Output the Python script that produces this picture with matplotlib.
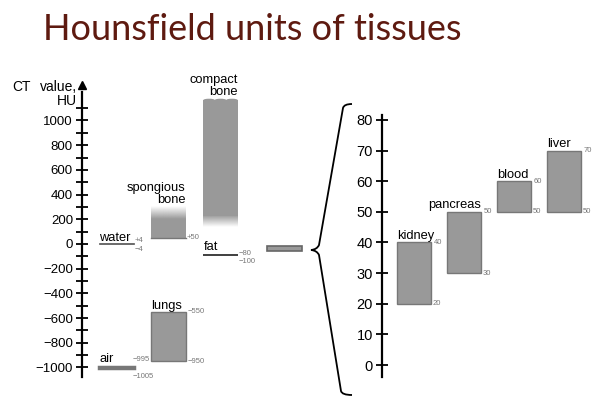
import numpy as np
import matplotlib
matplotlib.use('Agg')
import matplotlib.pyplot as plt
from matplotlib.patches import Ellipse
from matplotlib.path import Path
from matplotlib.patches import PathPatch

plt.rcParams['font.family'] = ['Liberation Sans', 'DejaVu Sans']

# --- data (Hounsfield units) ---
air_hu = (-1005, -995)
water_hu = (-4, 4)
lungs_hu = (-950, -550)
fat_hu = (-100, -80)
spongious_hu = (50, 200)        # solid part
spongious_fade_top = 300        # fades out up to here
compact_hu = (230, 1165)        # solid part
compact_fade_bottom = 140       # fades in from here
zoom_window_hu = (-57, -17)     # little bar pointing to the zoomed panel

organs = ['kidney', 'pancreas', 'blood', 'liver']
organ_low = [20, 30, 50, 50]
organ_high = [40, 50, 60, 70]

left_ticks = list(range(-1000, 1001, 200))
left_minor = list(range(-1000, 1101, 100))
right_ticks = list(range(0, 81, 10))

BAR = '#999999'
EDGE = '#777777'
NUM = '#777777'
W, H = 600, 397


def fmt(v):
    return ('+%d' % v if v > 0 else '%d' % v).replace('-', '\u2212')


fig = plt.figure(figsize=(6, 3.97), dpi=100)

# ---------------- left panel ----------------
ax = fig.add_axes([82 / W, (H - 377) / H, 228 / W, 292 / H])
ax.set_xlim(-0.663, 3.72)
ax.set_ylim(-1077, 1287)
bw = 0.66


def grad(ax, x, lo, hi, up):
    a = np.linspace(1, 0, 64) if up else np.linspace(0, 1, 64)
    img = np.zeros((64, 1, 4))
    img[..., :3] = 0.6
    img[:, 0, 3] = a
    ax.imshow(img, extent=(x - bw / 2, x + bw / 2, lo, hi), origin='lower',
              aspect='auto', interpolation='bilinear', zorder=2)


# column 0: water / air
ax.bar(0, water_hu[1] - water_hu[0], bottom=water_hu[0], width=bw,
       color='#555555', edgecolor='#555555', lw=0.5, zorder=3)
ax.bar(0, air_hu[1] - air_hu[0], bottom=air_hu[0], width=bw,
       color=BAR, edgecolor=EDGE, lw=2.5, zorder=3)
# column 1: spongious bone / lungs
ax.bar(1, spongious_hu[1] - spongious_hu[0], bottom=spongious_hu[0], width=bw,
       color=BAR, lw=0, zorder=3)
ax.plot([1 - bw / 2, 1 + bw / 2], [spongious_hu[0]] * 2, color=EDGE, lw=1, zorder=4)
grad(ax, 1, spongious_hu[1], spongious_fade_top, True)
ax.bar(1, lungs_hu[1] - lungs_hu[0], bottom=lungs_hu[0], width=bw,
       color=BAR, edgecolor=EDGE, lw=1, zorder=3)
# column 2: compact bone / fat
ax.bar(2, compact_hu[1] - compact_hu[0], bottom=compact_hu[0], width=bw,
       color=BAR, lw=0, zorder=3)
grad(ax, 2, compact_fade_bottom, compact_hu[0], False)
for k in range(3):
    cx = 2 - bw / 2 + bw / 6 + k * bw / 3
    ax.add_patch(Ellipse((cx, compact_hu[1]), bw / 3, 22, color=BAR, lw=0, zorder=3))
ax.bar(2, fat_hu[1] - fat_hu[0], bottom=fat_hu[0], width=bw,
       color='#444444', lw=0, zorder=3)
# zoom window bar
ax.bar(3.23, zoom_window_hu[1] - zoom_window_hu[0], bottom=zoom_window_hu[0],
       width=bw, color=BAR, edgecolor='#666666', lw=1.2, zorder=3)

ax.set_xlim(-0.663, 3.72)
ax.set_ylim(-1077, 1287)

lab = dict(fontsize=9.3, color='black', textcoords='offset points')
ax.annotate('water', (-bw / 2, water_hu[1]), xytext=(0, 2), va='baseline', ha='left', **lab)
ax.annotate('air', (-bw / 2, air_hu[1]), xytext=(0, 3.5), va='baseline', ha='left', **lab)
ax.annotate('lungs', (1 - bw / 2, lungs_hu[1]), xytext=(0, 2), va='baseline', ha='left', **lab)
ax.annotate('spongious\nbone', (1 + bw / 2, spongious_fade_top), xytext=(0, 2.5),
            va='baseline', ha='right', multialignment='right', linespacing=1.0, **lab)
ax.annotate('compact\nbone', (2 + bw / 2, compact_hu[1]), xytext=(0, 4),
            va='baseline', ha='right', multialignment='right', linespacing=1.0, **lab)
ax.annotate('fat', (2 - bw / 2, fat_hu[1]), xytext=(0, 2.5), va='baseline', ha='left', **lab)

num = dict(fontsize=5.5, color=NUM, textcoords='offset points')
ax.annotate(fmt(water_hu[1]), (bw / 2, water_hu[1]), xytext=(1, 2), va='center', **num)
ax.annotate(fmt(water_hu[0]), (bw / 2, water_hu[0]), xytext=(1, -3.5), va='center', **num)
ax.annotate(fmt(air_hu[1]), (bw / 2, air_hu[1]), xytext=(-1, 5), va='center', **num)
ax.annotate(fmt(air_hu[0]), (bw / 2, air_hu[0]), xytext=(-1, -6), va='center', **num)
ax.annotate(fmt(spongious_hu[0]), (1 + bw / 2, spongious_hu[0]), xytext=(1, 0), va='center', **num)
ax.annotate(fmt(lungs_hu[1]), (1 + bw / 2, lungs_hu[1]), xytext=(1.5, 0), va='center', **num)
ax.annotate(fmt(lungs_hu[0]), (1 + bw / 2, lungs_hu[0]), xytext=(1.5, 0), va='center', **num)
ax.annotate(fmt(fat_hu[1]), (2 + bw / 2, fat_hu[1]), xytext=(1, 0.5), va='center', **num)
ax.annotate(fmt(fat_hu[0]), (2 + bw / 2, fat_hu[0]), xytext=(1, -3.5), va='center', **num)

for s in ['top', 'right', 'bottom']:
    ax.spines[s].set_visible(False)
ax.spines['left'].set_linewidth(1.6)
ax.spines['left'].set_bounds(-1077, 1230)
ax.plot([0], [1], marker='^', ms=6, color='black', transform=ax.transAxes,
        clip_on=False, zorder=5)
ax.set_xticks([])
ax.set_yticks(left_ticks)
ax.set_yticks(left_minor, minor=True)
ax.tick_params(axis='y', which='both', direction='inout', length=9, width=1.3,
               labelsize=9.5, pad=2)
ax.patch.set_visible(False)

fig.text(12 / W, 1 - 87 / H, 'CT', fontsize=10, va='center', ha='left')
fig.text(77 / W, 1 - 94 / H, 'value,\nHU', fontsize=10, va='center', ha='right',
         multialignment='right', linespacing=1.05)

# ---------------- right panel ----------------
ax2 = fig.add_axes([382 / W, (H - 376.7) / H, 218 / W, 261.7 / H])
x = np.arange(len(organs))
bw2 = 0.68
ax2.bar(x, np.array(organ_high) - np.array(organ_low), bottom=organ_low, width=bw2,
        color=BAR, edgecolor=EDGE, lw=1, zorder=3)
ax2.set_xlim(-0.633, 3.72)
ax2.set_ylim(-3.8, 81.6)
for i, name in enumerate(organs):
    if name == 'pancreas':
        ax2.annotate(name, (i + bw2 / 2, organ_high[i]), xytext=(0, 2.5), ha='right',
                     va='baseline', **lab)
    else:
        ax2.annotate(name, (i - bw2 / 2, organ_high[i]), xytext=(0, 2.5), ha='left',
                     va='baseline', **lab)
    ax2.annotate(str(organ_high[i]), (i + bw2 / 2, organ_high[i]), xytext=(2, 0),
                 va='center', **num)
    ax2.annotate(str(organ_low[i]), (i + bw2 / 2, organ_low[i]), xytext=(1.5, 0),
                 va='center', **num)
for s in ['top', 'right', 'bottom']:
    ax2.spines[s].set_visible(False)
ax2.spines['left'].set_linewidth(1.6)
ax2.set_xticks([])
ax2.set_yticks(right_ticks)
ax2.tick_params(axis='y', direction='inout', length=9, width=1.3, labelsize=10.5, pad=2)
ax2.patch.set_visible(False)

# ---------------- brace & title ----------------
ov = fig.add_axes([0, 0, 1, 1], zorder=-1)
ov.set_xlim(0, W)
ov.set_ylim(H, 0)
ov.axis('off')
verts = [(352, 104), (344, 104), (343, 108), (319, 245), (317, 249.5), (311, 250),
         (317, 250.5), (319, 255), (341, 391), (342, 395), (352, 395)]
codes = [Path.MOVETO, Path.CURVE3, Path.CURVE3, Path.LINETO, Path.CURVE3, Path.CURVE3,
         Path.CURVE3, Path.CURVE3, Path.LINETO, Path.CURVE3, Path.CURVE3]
ov.add_patch(PathPatch(Path(verts, codes), fill=False, lw=1.3, color='black'))

fig.text(43 / W, 1 - 40 / H, 'Hounsfield units of tissues', family='Lato',
         fontsize=26, color='#5e1a10', va='baseline', ha='left')

fig.savefig('out.png', dpi=100)
